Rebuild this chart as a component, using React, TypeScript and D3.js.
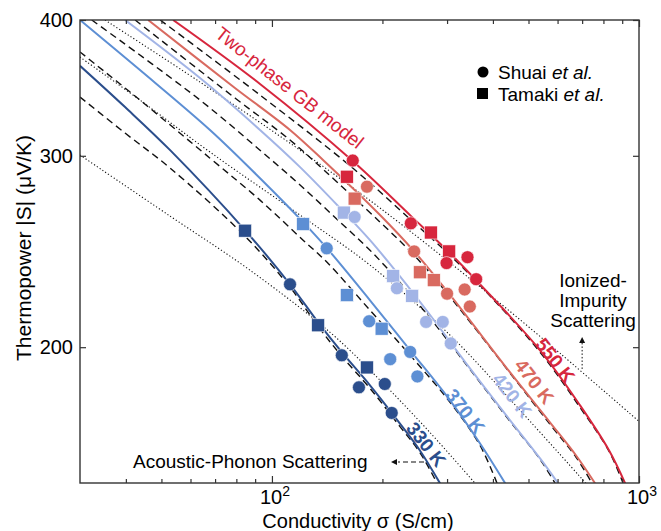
import React, { useEffect, useRef } from "react";
import * as d3 from "d3";

const W = 661;
const H = 531;
const margin = { top: 20, right: 22, bottom: 48, left: 80 };

const temperatures = ["330 K", "370 K", "420 K", "470 K", "550 K"];
const colours = ["#2b4e8c", "#5d8fd4", "#a2b4e6", "#d96a60", "#d7263d"];

// two-phase GB model, [sigma (S/cm), |S| (uV/K)]
const gb330 = [[30, 363], [39.8, 332.6], [52.8, 303.6], [84.5, 256.2], [112, 228.5], [133.6, 210.8], [155, 197.9], [185, 184.5], [223, 170.2], [253, 160.7], [287, 149.9]];
const gb370 = [[30, 400], [43.7, 359.8], [67.8, 316.9], [92.8, 286.1], [121.6, 260.7], [141.3, 246.6], [185, 220.9], [238, 198.7], [306, 178.6], [369, 163.1], [432, 149.9]];
const gb420 = [[39.8, 400], [63.7, 353.7], [92.8, 316.9], [119.3, 292.9], [153.3, 268.6], [185, 250.9], [223, 232.5], [270, 214], [346.4, 191.2], [445.5, 171.3], [537.6, 158], [602, 149.9]];
const gb470 = [[46, 400], [79.3, 346.4], [112, 316.9], [138.7, 296.7], [197, 264.6], [244, 245], [300, 225.2], [445.5, 189.6], [572.6, 170.5], [673.9, 159], [759, 149.9]];
const gb550 = [[53.8, 400], [92.8, 349.3], [166, 296.7], [239.4, 264], [303.7, 244.6], [360, 230.5], [537.6, 198.7], [691, 176.8], [829, 160.7], [917, 149.9]];

// acoustic-phonon scattering (dashed)
const ap330 = [[30, 339.8], [39.8, 314.8], [52.8, 292.3], [84.5, 253], [112, 227.1], [133.6, 209], [155, 196.2], [185, 183.3], [223, 169.1], [253, 160], [281.8, 149.9]];
const ap370 = [[30, 373.8], [43.7, 337.6], [67.8, 298.5], [92.8, 273.1], [121.6, 250.9], [141.3, 239.4], [185, 216.3], [238, 196.6], [306, 177.9], [369, 162.4], [410.5, 149.9]];
const ap420 = [[32.3, 400], [63.7, 337.6], [92.8, 303.6], [119.3, 282], [153.3, 260.7], [185, 245.6], [223, 229.5], [270, 212.6], [346.4, 190.8], [445.5, 170.9], [537.6, 157.7], [591, 149.9]];
const ap470 = [[42.4, 400], [79.3, 339.1], [112, 310.2], [138.7, 291], [197, 260.7], [244, 243], [300, 224.2], [445.5, 189.3], [572.6, 169.8], [673.9, 158.4], [745, 149.9]];
const ap550 = [[49.6, 400], [92.8, 341.2], [166, 292.3], [239.4, 261.8], [303.7, 243.5], [360, 230], [537.6, 197.9], [691, 176], [829, 160.4], [905, 149.9]];

// ionized-impurity scattering (dotted)
const iiLow = [[30, 300.5], [52.8, 264], [87.2, 235.4], [144, 206.4], [197, 186.5], [269.7, 166.9], [357.7, 149.9]];
const iiMid = [[30, 369.8], [43.7, 337.6], [67.8, 302.4], [119.3, 264.6], [185, 238], [306, 205.1], [474, 175], [717, 149.9]];
const iiHigh = [[35.1, 400], [63.7, 350.7], [119.3, 303.6], [197, 268.6], [366.9, 227.6], [609.6, 197.4], [1000, 170.9]];

// Shuai et al. (circles)
const shuai330 = [[112, 228.5], [155, 196.6], [172.6, 183.7], [203, 185], [212, 174]];
const shuai370 = [[141, 246.6], [184, 211.3], [210, 195], [238, 198], [249, 188]];
const shuai420 = [[168, 263.5], [219, 226.6], [263, 211], [292, 211], [307, 201.6]];
const shuai470 = [[181.5, 281], [244, 245], [300, 224], [335, 226], [346, 218]];
const shuai550 = [[166, 297], [239, 260], [299, 239], [341, 242], [360, 231]];

// Tamaki et al. (squares)
const tamaki330 = [[84.5, 256], [133.6, 209.5], [181.5, 191.6]];
const tamaki370 = [[121.6, 259.6], [160, 223.3], [199, 208]];
const tamaki420 = [[157, 266], [214, 232.5], [241, 223]];
const tamaki470 = [[168, 274], [253, 234.4], [276, 230.5]];
const tamaki550 = [[160, 287], [271, 255], [304, 245]];

// label anchors [sigma, S]
const labelAt = [[263, 162.8], [336, 174.6], [451, 180.6], [518, 186], [591, 194.5]];

const xMinorTicks = [40, 50, 60, 70, 80, 90, 200, 300, 400, 500, 600, 700, 800, 900];
const xMajorTicks = [100, 1000];
const xTickLabels = ["2", "3"];
const yTicks = [200, 300, 400];

const gbLines = [gb330, gb370, gb420, gb470, gb550];
const apLines = [ap330, ap370, ap420, ap470, ap550];
const iiLines = [iiLow, iiMid, iiHigh];
const shuai = [shuai330, shuai370, shuai420, shuai470, shuai550];
const tamaki = [tamaki330, tamaki370, tamaki420, tamaki470, tamaki550];

const FONT = "'Liberation Sans', Arial, Helvetica, sans-serif";

export default function App() {
  const axRef = useRef<SVGGElement>(null);

  const x = d3.scaleLog().domain([30, 1000]).range([margin.left, W - margin.right]);
  const y = d3.scaleLog().domain([150, 400]).range([H - margin.bottom, margin.top]);
  const line = d3
    .line<number[]>()
    .x((d) => x(d[0]))
    .y((d) => y(d[1]))
    .curve(d3.curveCatmullRom.alpha(0.5));

  useEffect(() => {
    const g = d3.select(axRef.current);
    g.selectAll("*").remove();
    const bottom = H - margin.bottom;
    const top = margin.top;
    const left = margin.left;
    const right = W - margin.right;

    // tick marks pointing inward on all four sides
    g.append("g").attr("transform", `translate(0,${bottom})`)
      .call(d3.axisBottom(x).tickValues(xMinorTicks).tickSize(-4).tickFormat(() => ""));
    g.append("g").attr("transform", `translate(0,${bottom})`)
      .call(d3.axisBottom(x).tickValues(xMajorTicks).tickSize(-7).tickFormat(() => ""));
    g.append("g").attr("transform", `translate(0,${top})`)
      .call(d3.axisTop(x).tickValues(xMinorTicks).tickSize(-4).tickFormat(() => ""));
    g.append("g").attr("transform", `translate(0,${top})`)
      .call(d3.axisTop(x).tickValues(xMajorTicks).tickSize(-7).tickFormat(() => ""));
    g.append("g").attr("transform", `translate(${left},0)`)
      .call(d3.axisLeft(y).tickValues(yTicks).tickSize(-6).tickFormat(() => ""));
    g.append("g").attr("transform", `translate(${right},0)`)
      .call(d3.axisRight(y).tickValues(yTicks).tickSize(-6).tickFormat(() => ""));
    g.selectAll(".domain").remove();
    g.selectAll(".tick line").attr("stroke", "#333").attr("stroke-width", 1.2);
    g.append("rect")
      .attr("x", left).attr("y", top)
      .attr("width", right - left).attr("height", bottom - top)
      .attr("fill", "none").attr("stroke", "#333").attr("stroke-width", 1.4);
  }, []);

  // the ionized-impurity arrow sits on the upper dotted curve
  const arrowX = x(700);
  const arrowFoot = y(191);

  return (
    <svg width={W} height={H} style={{ position: "absolute", left: 0, top: 0, fontFamily: FONT }}>
      <defs>
        <clipPath id="plotArea">
          <rect x={margin.left} y={margin.top} width={W - margin.left - margin.right} height={H - margin.top - margin.bottom} />
        </clipPath>
      </defs>
      <rect width={W} height={H} fill="#fff" />

      <g clipPath="url(#plotArea)" fill="none">
        {iiLines.map((d, i) => (
          <path key={"ii" + i} d={line(d) ?? ""} stroke="#111" strokeWidth={1.1} strokeDasharray="1.2,2.2" />
        ))}
        {apLines.map((d, i) => (
          <path key={"ap" + i} d={line(d) ?? ""} stroke="#111" strokeWidth={1.4} strokeDasharray="7,4.5" />
        ))}
        {gbLines.map((d, i) => (
          <path key={"gb" + i} d={line(d) ?? ""} stroke={colours[i]} strokeWidth={2} />
        ))}
      </g>

      <g>
        {tamaki.map((pts, i) =>
          pts.map((p, j) => (
            <rect key={`t${i}-${j}`} x={x(p[0]) - 6.5} y={y(p[1]) - 6.5} width={13} height={13}
              fill={colours[i]} stroke="#fff" strokeWidth={0.6} />
          ))
        )}
        {shuai.map((pts, i) =>
          pts.map((p, j) => (
            <circle key={`s${i}-${j}`} cx={x(p[0])} cy={y(p[1])} r={6.5}
              fill={colours[i]} stroke="#fff" strokeWidth={0.6} />
          ))
        )}
      </g>

      <g ref={axRef} />

      {/* tick labels */}
      {yTicks.map((t) => (
        <text key={t} x={margin.left - 7} y={y(t)} dy="0.36em" textAnchor="end" fontSize={20}>{t}</text>
      ))}
      {xMajorTicks.map((t, i) => (
        <text key={t} x={x(t) + 3} y={H - margin.bottom + 21} textAnchor="middle" fontSize={20}>
          10<tspan fontSize={14} dy={-8}>{xTickLabels[i]}</tspan>
        </text>
      ))}

      {/* axis titles */}
      <text x={358} y={528} textAnchor="middle" fontSize={20}>Conductivity σ (S/cm)</text>
      <text transform={`translate(31,248) rotate(-90)`} textAnchor="middle" fontSize={21}>Thermopower |S| (μV/K)</text>

      {/* model label */}
      <text transform="translate(214,36) rotate(38.5)" fontSize={19} fill={colours[4]}>Two-phase GB model</text>

      {/* temperature labels */}
      {temperatures.map((t, i) => (
        <text key={t} transform={`translate(${x(labelAt[i][0])},${y(labelAt[i][1])}) rotate(52)`}
          textAnchor="middle" dominantBaseline="central" fontSize={19} fontWeight="bold" fill={colours[i]}>{t}</text>
      ))}

      {/* legend */}
      <circle cx={483} cy={72} r={5.5} fill="#000" />
      <text x={498} y={79} fontSize={19}>Shuai <tspan fontStyle="italic">et al.</tspan></text>
      <rect x={477} y={88} width={11} height={11} fill="#000" />
      <text x={498} y={101} fontSize={19}>Tamaki <tspan fontStyle="italic">et al.</tspan></text>

      {/* ionized-impurity annotation */}
      <text x={593} y={287} textAnchor="middle" fontSize={19}>Ionized-</text>
      <text x={593} y={307} textAnchor="middle" fontSize={19}>Impurity</text>
      <text x={593} y={327} textAnchor="middle" fontSize={19}>Scattering</text>
      <line x1={arrowX} y1={arrowFoot} x2={arrowX} y2={343} stroke="#111" strokeWidth={1} strokeDasharray="1.5,2" />
      <path d={`M${arrowX},337 l-3,6 l6,0 z`} fill="#111" />

      {/* acoustic-phonon annotation */}
      <text x={133} y={468} fontSize={19}>Acoustic-Phonon Scattering</text>
      <line x1={424} y1={462} x2={398} y2={462} stroke="#111" strokeWidth={1.2} strokeDasharray="5,3" />
      <path d="M391,462 l6,-3 l0,6 z" fill="#111" />
    </svg>
  );
}
